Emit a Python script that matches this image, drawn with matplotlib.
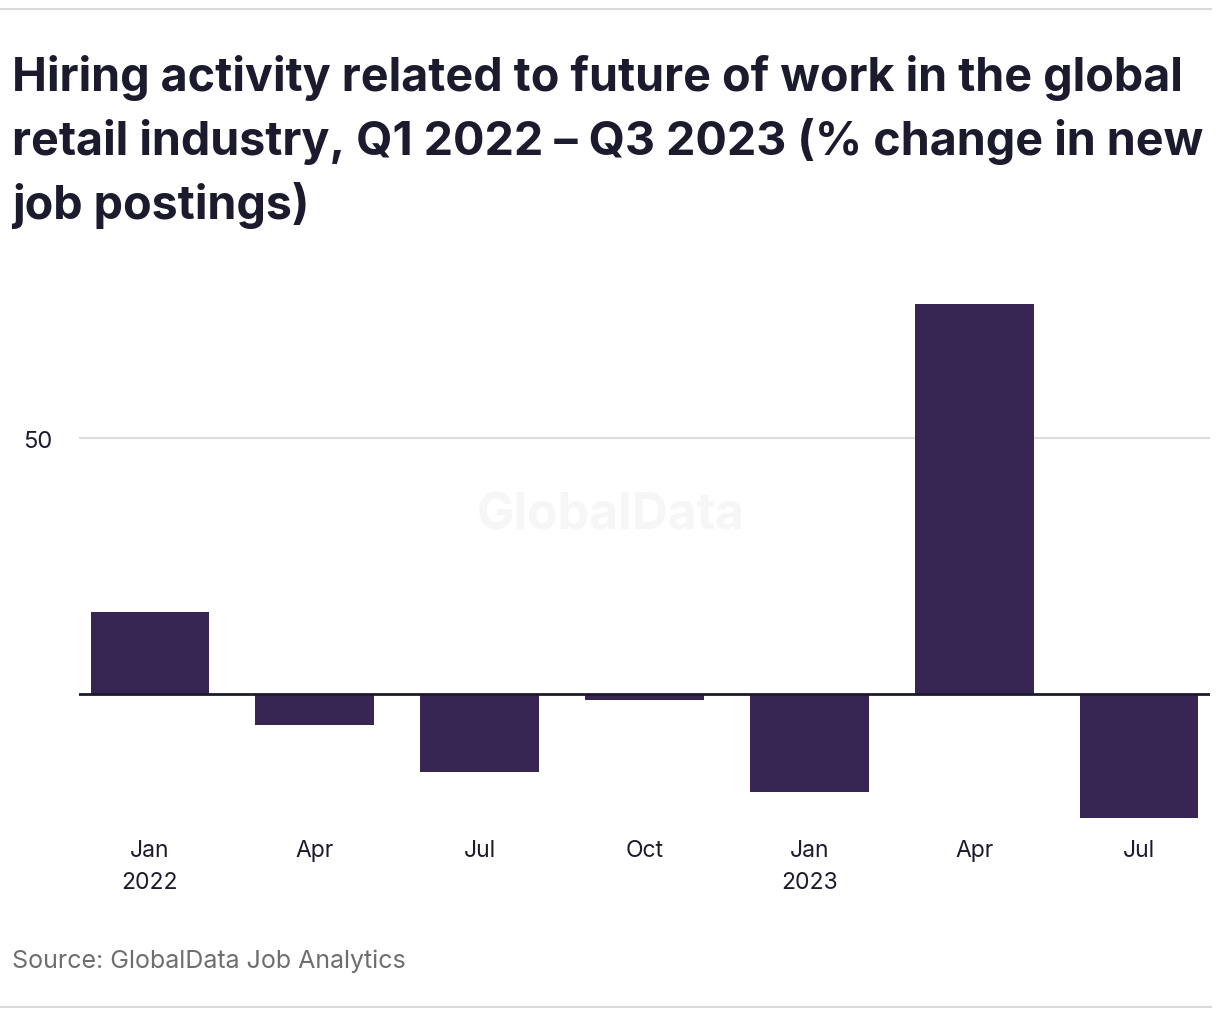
import numpy as np
import matplotlib
matplotlib.use("Agg")
import matplotlib.pyplot as plt

# values (% change in new job postings)
months = ["Jan\n2022", "Apr", "Jul", "Oct", "Jan\n2023", "Apr", "Jul"]
change = [16.0, -6.0, -15.2, -1.2, -19.1, 76.2, -24.2]
yticks = [50]

bar_color = "#372554"
text_color = "#1c1b2e"
font = "Inter"

plt.rcParams['font.family'] = [font, 'DejaVu Sans']

fig = plt.figure(figsize=(12.2, 10.2), dpi=100)
ax = fig.add_axes([0.0648, 0.194, 0.927, 0.5197])

x = np.arange(len(months))
ax.bar(x, change, width=0.72, color=bar_color, zorder=2)
ax.axhline(0, color=text_color, lw=2, zorder=3)

ax.set_xlim(-0.43, len(months) - 0.57)
ax.set_ylim(-24.8, 78.7)
ax.set_yticks(yticks)
ax.set_yticklabels([str(v) for v in yticks])
ax.yaxis.grid(True, color="#dddddd", lw=1.5, zorder=0)
ax.set_xticks(x)
ax.set_xticklabels(months, linespacing=1.55)
ax.tick_params(axis="x", length=0, pad=13, labelsize=16.5, labelcolor=text_color)
ax.tick_params(axis="y", length=0, pad=19, labelsize=17, labelcolor=text_color)
for s in ax.spines.values():
    s.set_visible(False)

# watermark
ax.text(0.47, 0.578, "GlobalData", transform=ax.transAxes, ha="center", va="center",
        fontsize=36, fontweight="bold", color="#f6f6f6", zorder=1)

fig.text(0.01, 0.946,
         "Hiring activity related to future of work in the global\n"
         "retail industry, Q1 2022 \u2013 Q3 2023 (% change in new\n"
         "job postings)",
         ha="left", va="top", fontsize=33.6, fontweight="bold", color=text_color,
         linespacing=1.46)
fig.text(0.01, 0.058, "Source: GlobalData Job Analytics", ha="left", va="center",
         fontsize=18, color="#6e6e6e")

fig.add_artist(plt.Line2D([0.0, 0.993], [0.99, 0.99], color="#d9d9d9", lw=1.5))
fig.add_artist(plt.Line2D([0.0, 0.993], [0.012, 0.012], color="#d9d9d9", lw=1.5))

fig.savefig("out.png", dpi=100)
